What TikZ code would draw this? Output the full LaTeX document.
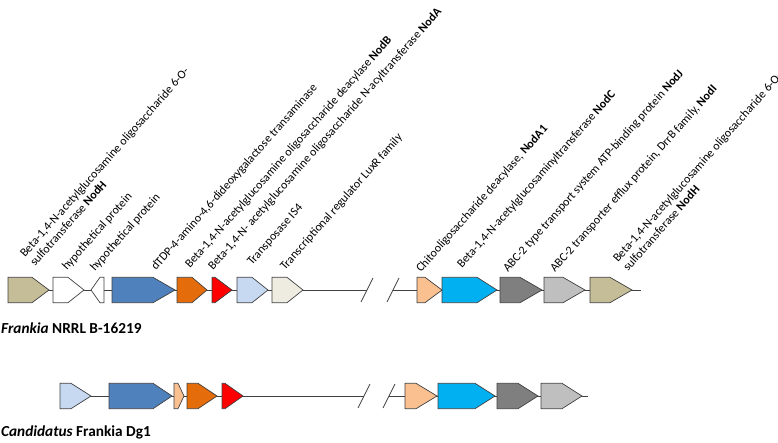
\documentclass[tikz,border=0pt]{standalone}
\usepackage{fontspec}
\setmainfont{Carlito}

\definecolor{nodH}{HTML}{C4BD97}
\definecolor{dtdp}{HTML}{4F81BD}
\definecolor{nodB}{HTML}{E46C0A}
\definecolor{nodA}{HTML}{FF0000}
\definecolor{tnp}{HTML}{C6D9F1}
\definecolor{luxR}{HTML}{EEECE1}
\definecolor{nodAone}{HTML}{FAC090}
\definecolor{nodC}{HTML}{00B0F0}
\definecolor{nodJ}{HTML}{7F7F7F}
\definecolor{nodI}{HTML}{BFBFBF}

\tikzset{
  genebox/.style={draw=black!75, line width=0.7pt, line join=miter},
  backbone/.style={draw=black!75, line width=0.7pt},
  genelabel/.style={rotate=48.5, anchor=base west, inner sep=0pt, align=left,
                    font=\fontsize{12}{13.4}\selectfont},
  species/.style={anchor=base west, inner sep=0pt, font=\fontsize{15.3}{18}\selectfont\bfseries}
}

% name, row y, left end, shoulder, tip, colour
\newcommand{\gene}[6]{%
  \draw[genebox, fill=#6] (#3,#2-12.7) -- (#4,#2-12.7) -- (#5,#2) -- (#4,#2+12.7) -- (#3,#2+12.7) -- cycle;
  \coordinate (#1-l) at (#3,#2);
  \coordinate (#1-r) at (#5,#2);
}
% break mark on the backbone
\newcommand{\brk}[1]{%
  \draw[backbone] ([shift={(-6,12)}]#1) -- ([shift={(6,-12)}]#1);
}

\begin{document}
\begin{tikzpicture}[x=1pt, y=-1pt]
    \useasboundingbox (0,0) rectangle (778,442);

    % Frankia NRRL B-16219
    \coordinate (top-start) at (8,290);
    \coordinate (top-cut1) at (367,290);
    \coordinate (top-cut2) at (393,290);
    \coordinate (top-end) at (641,290);
    \draw[backbone] (top-start) -- (top-cut1);
    \draw[backbone] (top-cut2) -- (top-end);
    \brk{top-cut1} \brk{top-cut2}

    \gene{t1}{290}{8}{32}{49}{nodH}
    \gene{t2}{290}{53}{68}{84}{white}
    \gene{t3}{290}{104}{100}{91}{white}
    \gene{t4}{290}{112}{153}{175}{dtdp}
    \gene{t5}{290}{177}{192}{207}{nodB}
    \gene{t6}{290}{212}{215}{232}{nodA}
    \gene{t7}{290}{237}{252}{268}{tnp}
    \gene{t8}{290}{272}{287}{303}{luxR}
    \gene{t9}{290}{417}{425}{442}{nodAone}
    \gene{t10}{290}{442}{477}{497}{nodC}
    \gene{t11}{290}{500}{520}{542}{nodJ}
    \gene{t12}{290}{544}{563}{585}{nodI}
    \gene{t13}{290}{590}{610}{632}{nodH}

    \node[genelabel] (l1) at (35,267) {Beta-1,4-N-acetylglucosamine oligosaccharide 6-O-\\sulfotransferase \textbf{NodH}};
    \node[genelabel] (l2) at (67,271) {hypothetical protein};
    \node[genelabel] (l3) at (95,272) {hypothetical protein};
    \node[genelabel] (l4) at (156,271) {dTDP-4-amino-4,6-dideoxygalactose transaminase};
    \node[genelabel] (l5) at (190,269) {Beta-1,4-N-acetylglucosamine oligosaccharide deacylase \textbf{NodB}};
    \node[genelabel] (l6) at (213,271) {Beta-1,4-N- acetylglucosamine oligosaccharide N-acyltransferase \textbf{NodA}};
    \node[genelabel] (l7) at (252,266) {Transposase IS4};
    \node[genelabel] (l8) at (285,271) {Transcriptional regulator LuxR family};
    \node[genelabel] (l9) at (421,273) {Chitooligosaccharide deacylase, \textbf{NodA1}};
    \node[genelabel] (l10) at (462,269) {Beta-1,4-N-acetylglucosaminyltransferase \textbf{NodC}};
    \node[genelabel] (l11) at (508,273) {ABC-2 type transport system ATP-binding protein \textbf{NodJ}};
    \node[genelabel] (l12) at (555,273) {ABC-2 transporter efflux protein, DrrB family, \textbf{NodI}};
    \node[genelabel] (l13) at (628,272) {Beta-1,4-N-acetylglucosamine oligosaccharide 6-O-\\sulfotransferase \textbf{NodH}};

    \node[species] (sp1) at (1,333) {\textit{Frankia} NRRL B-16219};

    % Candidatus Frankia Dg1
    \coordinate (bot-start) at (60,396);
    \coordinate (bot-cut1) at (364,396);
    \coordinate (bot-cut2) at (389,396);
    \coordinate (bot-end) at (588,396);
    \draw[backbone] (bot-start) -- (bot-cut1);
    \draw[backbone] (bot-cut2) -- (bot-end);
    \brk{bot-cut1} \brk{bot-cut2}

    \gene{b1}{396}{60}{71}{91}{tnp}
    \gene{b2}{396}{109}{153}{172}{dtdp}
    \gene{b3}{396}{174}{178}{184}{nodAone}
    \gene{b4}{396}{187}{198}{217}{nodB}
    \gene{b5}{396}{222}{225}{243}{nodA}
    \gene{b6}{396}{405}{416}{437}{nodAone}
    \gene{b7}{396}{438}{475}{495}{nodC}
    \gene{b8}{396}{497}{518}{538}{nodJ}
    \gene{b9}{396}{541}{562}{582}{nodI}

    \node[species] (sp2) at (1,436) {\textit{Candidatus} Frankia Dg1};
\end{tikzpicture}
\end{document}
